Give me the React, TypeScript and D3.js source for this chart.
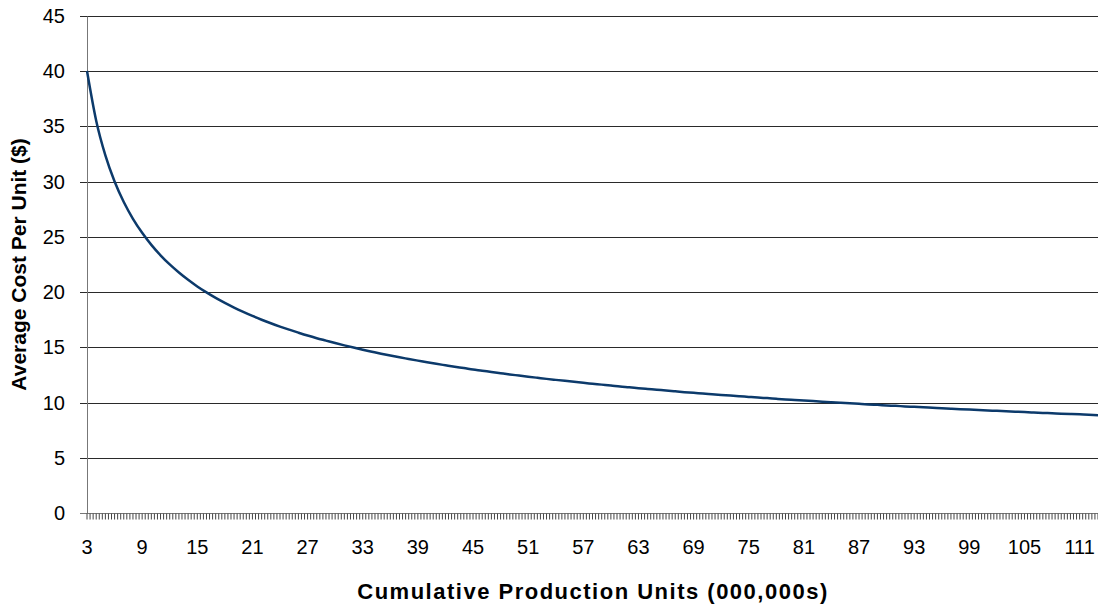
import { useEffect, useRef } from 'react';
import * as d3 from 'd3';

// cumulative production (000,000s) and average cost per unit
const units = d3.range(3, 114);
const avgCost = [
  40.0, 35.5, 32.36, 30.0, 28.15, 26.63, 25.36, 24.27, 23.33, 22.5,
  21.77, 21.11, 20.51, 19.97, 19.47, 19.02, 18.6, 18.21, 17.84, 17.5,
  17.18, 16.88, 16.6, 16.33, 16.07, 15.83, 15.61, 15.39, 15.18, 14.98,
  14.79, 14.61, 14.43, 14.26, 14.1, 13.95, 13.8, 13.65, 13.51, 13.38,
  13.25, 13.13, 13.0, 12.89, 12.77, 12.66, 12.55, 12.45, 12.35, 12.25,
  12.15, 12.06, 11.97, 11.88, 11.79, 11.71, 11.63, 11.55, 11.46, 11.39,
  11.31, 11.24, 11.17, 11.09, 11.02, 10.95, 10.89, 10.82, 10.76, 10.7,
  10.64, 10.58, 10.52, 10.46, 10.41, 10.35, 10.29, 10.24, 10.19, 10.14,
  10.09, 10.04, 9.99, 9.94, 9.89, 9.84, 9.8, 9.75, 9.71, 9.66,
  9.62, 9.58, 9.53, 9.49, 9.45, 9.41, 9.37, 9.33, 9.29, 9.26,
  9.22, 9.18, 9.15, 9.11, 9.07, 9.04, 9.0, 8.97, 8.94, 8.91,
  8.87,
];
const xTickLabels = d3.range(3, 112, 6);
const yTicks = d3.range(0, 50, 5);

const width = 1098;
const height = 607;
const font = 'Arial, "Liberation Sans", sans-serif';

export default function App() {
  const svgRef = useRef<SVGSVGElement>(null);

  useEffect(() => {
    if (!svgRef.current) return;
    const svg = d3.select(svgRef.current);
    svg.selectAll('*').remove();

    const left = 87;
    const right = 1098;
    const top = 15.7;
    const bottom = 513.2;

    const x = d3.scaleLinear().domain([3, 113]).range([left, right]);
    const y = d3.scaleLinear().domain([0, 45]).range([bottom, top]);
    const px = (v: number) => Math.round(v) + 0.5;

    // gridlines + outside ticks on the value axis
    svg.append('g')
      .selectAll('line')
      .data(yTicks)
      .enter()
      .append('line')
      .attr('x1', left - 7)
      .attr('x2', right)
      .attr('y1', d => px(y(d)))
      .attr('y2', d => px(y(d)))
      .attr('stroke', d => (d === 0 ? '#777' : '#2a2a2a'))
      .attr('stroke-width', 1);

    // value axis line
    svg.append('line')
      .attr('x1', px(left)).attr('x2', px(left))
      .attr('y1', px(y(45))).attr('y2', px(y(0)))
      .attr('stroke', '#777');

    // minor ticks on the category axis
    const minor = d3.range(0, 331).map(i => 3 + i / 3);
    svg.append('g')
      .selectAll('line')
      .data(minor)
      .enter()
      .append('line')
      .attr('x1', d => x(d))
      .attr('x2', d => x(d))
      .attr('y1', px(y(0)))
      .attr('y2', px(y(0)) + 6)
      .attr('stroke', '#444')
      .attr('stroke-width', 1);

    // y labels
    svg.append('g')
      .selectAll('text')
      .data(yTicks)
      .enter()
      .append('text')
      .attr('x', 65)
      .attr('y', d => y(d) + 7)
      .attr('text-anchor', 'end')
      .attr('font-family', font)
      .attr('font-size', 20)
      .attr('fill', '#000')
      .text(d => d);

    // x labels
    svg.append('g')
      .selectAll('text')
      .data(xTickLabels)
      .enter()
      .append('text')
      .attr('x', d => x(d))
      .attr('y', 553.5)
      .attr('text-anchor', 'middle')
      .attr('font-family', font)
      .attr('font-size', 20)
      .attr('fill', '#000')
      .text(d => d);

    // curve
    const line = d3.line<number>()
      .x((_, i) => x(units[i]))
      .y(d => y(d))
      .curve(d3.curveMonotoneX);

    svg.append('path')
      .datum(avgCost)
      .attr('d', line)
      .attr('fill', 'none')
      .attr('stroke', '#0c3a6b')
      .attr('stroke-width', 2.5);

    // axis titles
    svg.append('text')
      .attr('x', 593)
      .attr('y', 599)
      .attr('text-anchor', 'middle')
      .attr('font-family', font)
      .attr('font-size', 22)
      .attr('font-weight', 'bold')
      .attr('letter-spacing', 1.5)
      .text('Cumulative Production Units (000,000s)');

    svg.append('text')
      .attr('transform', `translate(26,${(top + bottom) / 2}) rotate(-90)`)
      .attr('text-anchor', 'middle')
      .attr('font-family', font)
      .attr('font-size', 21)
      .attr('font-weight', 'bold')
      .text('Average Cost Per Unit ($)');
  }, []);

  return (
    <svg
      ref={svgRef}
      width={width}
      height={height}
      style={{ position: 'absolute', left: 0, top: 0, display: 'block', background: '#fff' }}
    />
  );
}
